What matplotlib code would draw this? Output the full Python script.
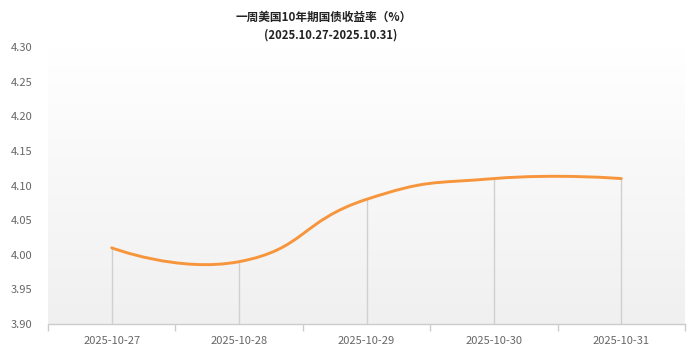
import numpy as np
import matplotlib
matplotlib.use("Agg")
import matplotlib.pyplot as plt
from matplotlib.path import Path
from matplotlib.patches import PathPatch
from matplotlib.colors import LinearSegmentedColormap

plt.rcParams['font.family'] = ['Noto Sans CJK SC', 'DejaVu Sans']

title_line1 = "一周美国10年期国债收益率（%）"
title_line2 = "(2025.10.27-2025.10.31)"
categories = ["2025-10-27", "2025-10-28", "2025-10-29", "2025-10-30", "2025-10-31"]
yields = [4.01, 3.99, 4.08, 4.11, 4.11]
y_ticks = [3.90, 3.95, 4.00, 4.05, 4.10, 4.15, 4.20, 4.25, 4.30]

fig = plt.figure(figsize=(7.0, 3.58), dpi=100)
ax = fig.add_axes([48/700, 1 - 324/358, (685-48)/700, (324-47)/358])
ax.set_xlim(-0.5, len(categories) - 0.5)
ax.set_ylim(3.90, 4.30)

# gradient background: white at top -> light gray at bottom
grad = np.linspace(0, 1, 256).reshape(-1, 1)
cmap = LinearSegmentedColormap.from_list("bg", ["#ffffff", "#f0f0f0"])
ax.imshow(grad, cmap=cmap, aspect='auto',
          extent=[-0.5, len(categories) - 0.5, 3.90, 4.30],
          origin='upper', zorder=0)

xs = np.arange(len(categories))
ax.vlines(xs, 3.90, yields, colors="#d0d0d0", linewidth=1.0, zorder=1)

# echarts-style smooth curve computed in pixel space
fig.canvas.draw()
pts = ax.transData.transform(np.column_stack([xs, yields]))
smooth = 0.5
verts = [tuple(pts[0])]
codes = [Path.MOVETO]
cp0 = pts[0].copy()
n = len(pts)
for i in range(1, n):
    p = pts[i]
    if i < n - 1:
        prev, nxt = pts[i - 1], pts[i + 1]
        v = nxt - prev
        l0 = np.hypot(*(p - prev))
        l1 = np.hypot(*(nxt - p))
        r = l1 / (l0 + l1)
        cp1 = p - v * smooth * (1 - r)
        next_cp0 = p + v * smooth * r
    else:
        cp1 = p.copy()
        next_cp0 = p.copy()
    verts += [tuple(cp0), tuple(cp1), tuple(p)]
    codes += [Path.CURVE4] * 3
    cp0 = next_cp0
data_verts = ax.transData.inverted().transform(np.array(verts))
path = Path(data_verts, codes)
ax.add_patch(PathPatch(path, facecolor='none', edgecolor='#f7953c', linewidth=2.1,
                       capstyle='round', joinstyle='round', zorder=3))

ax.set_xticks(xs)
ax.set_xticklabels(categories)
ax.set_xticks(np.arange(-0.5, len(categories), 1.0), minor=True)
ax.tick_params(axis='x', which='major', length=0, pad=9, labelsize=8, labelcolor='#666666')
ax.tick_params(axis='x', which='minor', length=5, color='#cccccc', width=1)
ax.set_yticks(y_ticks)
ax.set_yticklabels([f"{t:.2f}" for t in y_ticks])
ax.tick_params(axis='y', length=0, pad=11, labelsize=8, labelcolor='#666666')

for s in ['top', 'right', 'left']:
    ax.spines[s].set_visible(False)
ax.spines['bottom'].set_color('#cccccc')
ax.spines['bottom'].set_linewidth(1)

fig.text(324/700, 1 - 17/358, title_line1, ha='center', va='center',
         fontsize=8.4, fontweight='bold', color='#222222')
fig.text(331/700, 1 - 35/358, title_line2, ha='center', va='center',
         fontsize=8.1, fontweight='bold', color='#222222')

fig.savefig("out.png", dpi=100)
